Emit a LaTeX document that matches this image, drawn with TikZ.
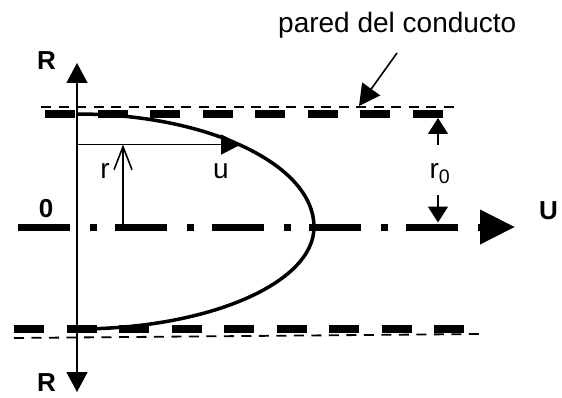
\documentclass[tikz,border=0pt]{standalone}
\usepackage{fontspec}
\setmainfont{Liberation Sans}
\usetikzlibrary{arrows.meta}

\begin{document}
\begin{tikzpicture}[x=1pt,y=1pt,
 wall/.style={line width=7.5pt,dash pattern=on 30pt off 22.5pt},
 thinwall/.style={line width=1.8pt,dash pattern=on 10pt off 7.5pt},
 thin/.style={line width=1.6pt},
 lbl/.style={inner sep=0pt,font=\fontsize{28}{32}\selectfont},
 axlbl/.style={inner sep=0pt,font=\fontsize{26}{30}\selectfont\bfseries},
 axtip/.tip={Triangle[length=20pt,width=21pt]},
 dimtip/.tip={Triangle[length=16pt,width=20pt]}]
 \useasboundingbox (0,0) rectangle (562,397);
 % duct walls
 \coordinate (wall top a) at (41,290);
 \coordinate (wall top b) at (459,290);
 \coordinate (wall bot a) at (14,59);
 \coordinate (wall bot b) at (480,63);
 \draw[thinwall] (wall top a) -- (wall top b);
 \draw[thinwall] (wall bot a) -- (wall bot b);
 \coordinate (thick top a) at (45,283);
 \coordinate (thick top b) at (443,283);
 \coordinate (thick bot a) at (14,68);
 \coordinate (thick bot b) at (464,68);
 \draw[wall] (thick top a) -- (thick top b);
 \draw[wall] (thick bot a) -- (thick bot b);
 % axis of the duct
 \coordinate (axis a) at (18,170);
 \coordinate (axis b) at (515,170);
 \draw[line width=7pt,dash pattern=on 52pt off 20pt on 7pt off 18pt,
  -{Triangle[length=35pt,width=33pt]}] (axis a) -- (axis b);
 \node[axlbl] (U) at (548.5,186.5) {U};
 % velocity profile
 \coordinate (prof top) at (77,283);
 \draw[line width=3.5pt] (prof top)
  arc[start angle=90,end angle=0,x radius=237,y radius=113]
  arc[start angle=0,end angle=-90,x radius=237,y radius=102];
 % R axis
 \coordinate (R bot) at (77,5);
 \coordinate (R top) at (77,334);
 \draw[thin,axtip-axtip] (R bot) -- (R top);
 \node[axlbl] (R up) at (46.5,336) {R};
 \node[axlbl] (R down) at (46.5,14) {R};
 \node[axlbl] (zero) at (46,188.5) {0};
 % u and r
 \coordinate (u start) at (77,252.5);
 \coordinate (u tip) at (241,252.5);
 \draw[thin,-{Triangle[length=20pt,width=20pt]}] (u start) -- (u tip);
 \coordinate (r foot) at (123,170);
 \coordinate (r tip) at (123,252.5);
 \draw[thin,-{Straight Barb[length=23pt,width=18pt,line width=1.6pt]}] (r foot) -- (r tip);
 \node[lbl,anchor=base] (r) at (105,219) {r};
 \node[lbl,anchor=base] (u) at (221,219) {u};
 % r0
 \coordinate (r0 a) at (438,252);
 \coordinate (r0 b) at (438,279);
 \coordinate (r0 c) at (438,202);
 \coordinate (r0 d) at (438,174.5);
 \draw[thin,-dimtip] (r0 a) -- (r0 b);
 \draw[thin,-dimtip] (r0 c) -- (r0 d);
 \node[lbl,anchor=base] (r0) at (440,219) {r\textsubscript{0}};
 % wall label
 \node[lbl,anchor=base west,font=\fontsize{28}{32}\selectfont] (pared) at (278,364) {pared del conducto};
 \coordinate (p start) at (397,344);
 \coordinate (p tip) at (359,291);
 \draw[thin,-{Triangle[length=21pt,width=22pt]}] (p start) -- (p tip);
\end{tikzpicture}
\end{document}
